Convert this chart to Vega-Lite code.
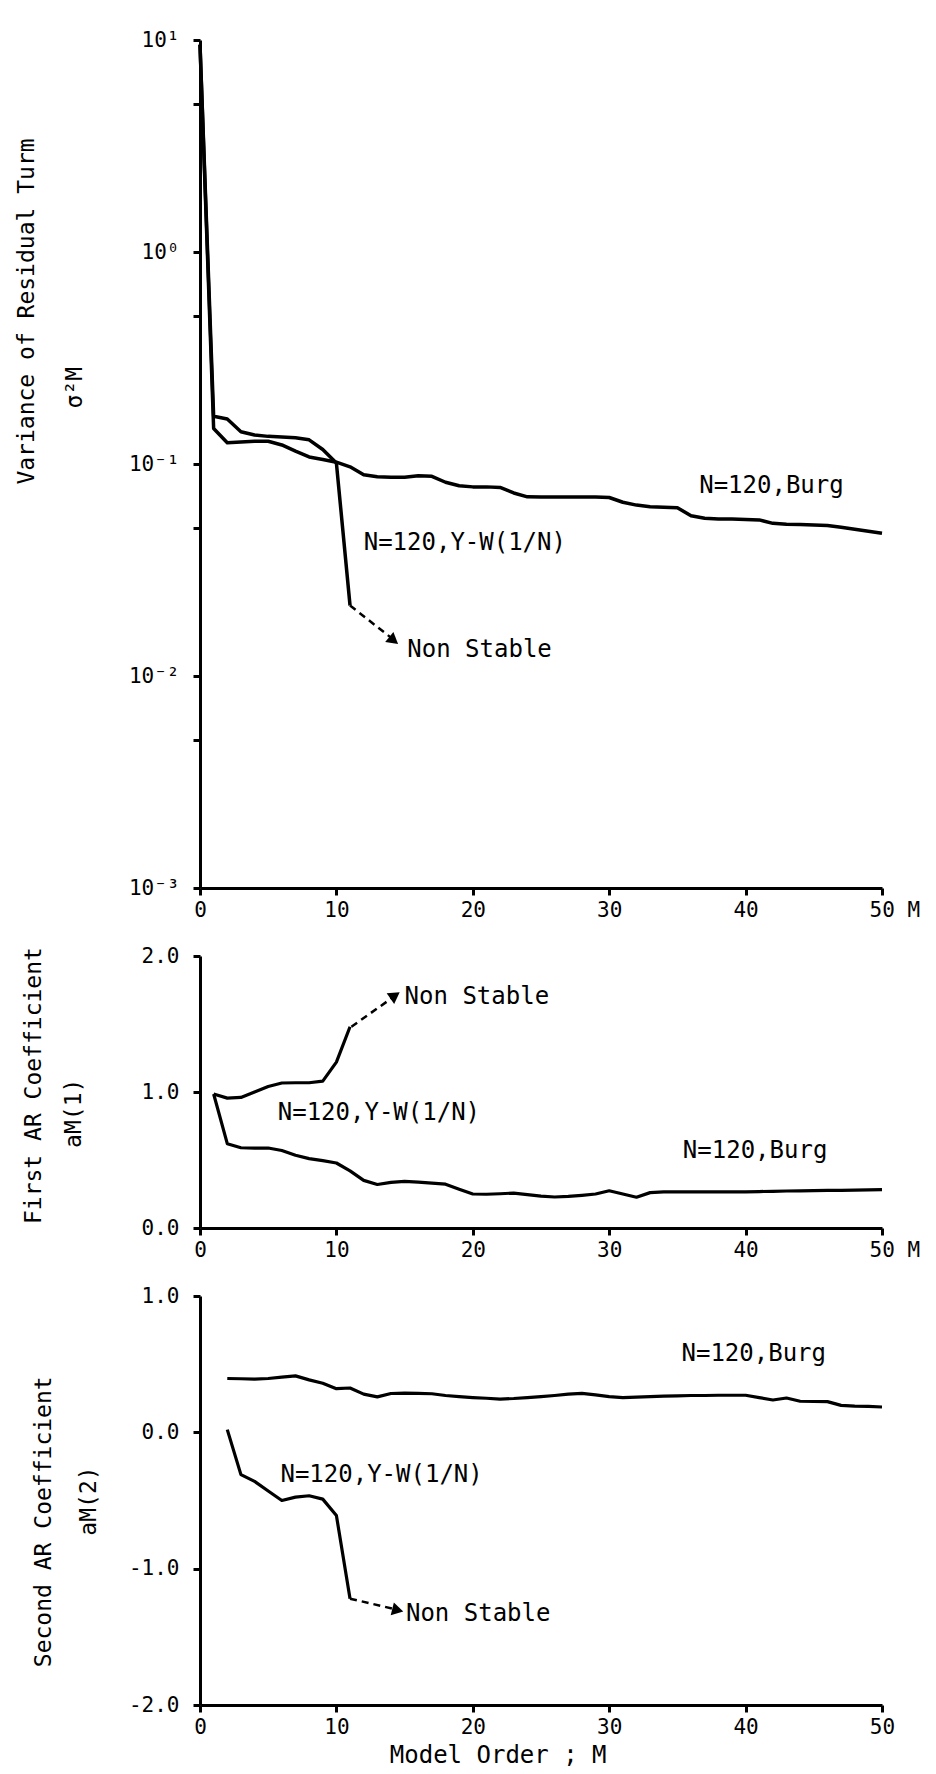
{
  "$schema": "https://vega.github.io/schema/vega-lite/v6.json",
  "background": "white",
  "padding": {"left": 15, "top": 29, "right": 5, "bottom": 0},
  "bounds": "flush",
  "spacing": 68,
  "config": {
    "view": {"stroke": null},
    "font": "DejaVu Sans Mono",
    "axis": {
      "domainColor": "black", "domainWidth": 3, "tickColor": "black", "tickWidth": 3, "tickSize": 7,
      "labelFont": "DejaVu Sans Mono", "labelFontSize": 21, "labelColor": "black",
      "titleFont": "DejaVu Sans Mono", "titleFontSize": 23, "titleFontWeight": "normal", "titleColor": "black",
      "grid": false, "labelFlush": false, "labelOverlap": false
    },
    "axisX": {"labelPadding": 4},
    "axisY": {"labelPadding": 14}
  },
  "datasets": {
    "p1": [
      {"s":"Burg","M":0,"v":9.5},{"s":"Burg","M":1,"v":0.147},{"s":"Burg","M":2,"v":0.126},{"s":"Burg","M":3,"v":0.127},{"s":"Burg","M":4,"v":0.128},{"s":"Burg","M":5,"v":0.128},{"s":"Burg","M":6,"v":0.123},{"s":"Burg","M":7,"v":0.115},{"s":"Burg","M":8,"v":0.108},{"s":"Burg","M":9,"v":0.105},{"s":"Burg","M":10,"v":0.102},{"s":"Burg","M":11,"v":0.097},{"s":"Burg","M":12,"v":0.089},{"s":"Burg","M":13,"v":0.087},{"s":"Burg","M":14,"v":0.0865},{"s":"Burg","M":15,"v":0.0865},{"s":"Burg","M":16,"v":0.088},{"s":"Burg","M":17,"v":0.0875},{"s":"Burg","M":18,"v":0.082},{"s":"Burg","M":19,"v":0.079},{"s":"Burg","M":20,"v":0.078},{"s":"Burg","M":21,"v":0.078},{"s":"Burg","M":22,"v":0.0775},{"s":"Burg","M":23,"v":0.073},{"s":"Burg","M":24,"v":0.07},{"s":"Burg","M":25,"v":0.0698},{"s":"Burg","M":26,"v":0.0698},{"s":"Burg","M":27,"v":0.0698},{"s":"Burg","M":28,"v":0.0698},{"s":"Burg","M":29,"v":0.0698},{"s":"Burg","M":30,"v":0.0695},{"s":"Burg","M":31,"v":0.066},{"s":"Burg","M":32,"v":0.064},{"s":"Burg","M":33,"v":0.0628},{"s":"Burg","M":34,"v":0.0625},{"s":"Burg","M":35,"v":0.0622},{"s":"Burg","M":36,"v":0.057},{"s":"Burg","M":37,"v":0.0555},{"s":"Burg","M":38,"v":0.055},{"s":"Burg","M":39,"v":0.055},{"s":"Burg","M":40,"v":0.0548},{"s":"Burg","M":41,"v":0.0545},{"s":"Burg","M":42,"v":0.0525},{"s":"Burg","M":43,"v":0.052},{"s":"Burg","M":44,"v":0.0518},{"s":"Burg","M":45,"v":0.0516},{"s":"Burg","M":46,"v":0.0513},{"s":"Burg","M":47,"v":0.0503},{"s":"Burg","M":48,"v":0.0492},{"s":"Burg","M":49,"v":0.0482},{"s":"Burg","M":50,"v":0.0471},
      {"s":"YW","M":0,"v":9.5},{"s":"YW","M":1,"v":0.168},{"s":"YW","M":2,"v":0.163},{"s":"YW","M":3,"v":0.142},{"s":"YW","M":4,"v":0.137},{"s":"YW","M":5,"v":0.135},{"s":"YW","M":6,"v":0.134},{"s":"YW","M":7,"v":0.133},{"s":"YW","M":8,"v":0.13},{"s":"YW","M":9,"v":0.117},{"s":"YW","M":10,"v":0.101},{"s":"YW","M":11,"v":0.0215}
    ],
    "p1dash": [{"M":11,"v":0.0215},{"M":14.1,"v":0.015}],
    "p1head": [{"M":14.2,"v":0.0147}],
    "p1text": [
      {"M":36.6,"v":0.079,"t":"N=120,Burg"},
      {"M":12.0,"v":0.0425,"t":"N=120,Y-W(1/N)"},
      {"M":15.2,"v":0.0133,"t":"Non Stable"}
    ],
    "p2": [
      {"s":"Burg","M":1,"v":0.985},{"s":"Burg","M":2,"v":0.62},{"s":"Burg","M":3,"v":0.59},{"s":"Burg","M":4,"v":0.588},{"s":"Burg","M":5,"v":0.588},{"s":"Burg","M":6,"v":0.57},{"s":"Burg","M":7,"v":0.535},{"s":"Burg","M":8,"v":0.51},{"s":"Burg","M":9,"v":0.495},{"s":"Burg","M":10,"v":0.478},{"s":"Burg","M":11,"v":0.42},{"s":"Burg","M":12,"v":0.35},{"s":"Burg","M":13,"v":0.32},{"s":"Burg","M":14,"v":0.335},{"s":"Burg","M":15,"v":0.343},{"s":"Burg","M":16,"v":0.338},{"s":"Burg","M":17,"v":0.33},{"s":"Burg","M":18,"v":0.322},{"s":"Burg","M":19,"v":0.285},{"s":"Burg","M":20,"v":0.25},{"s":"Burg","M":21,"v":0.248},{"s":"Burg","M":22,"v":0.252},{"s":"Burg","M":23,"v":0.257},{"s":"Burg","M":24,"v":0.245},{"s":"Burg","M":25,"v":0.235},{"s":"Burg","M":26,"v":0.228},{"s":"Burg","M":27,"v":0.232},{"s":"Burg","M":28,"v":0.24},{"s":"Burg","M":29,"v":0.25},{"s":"Burg","M":30,"v":0.274},{"s":"Burg","M":31,"v":0.25},{"s":"Burg","M":32,"v":0.226},{"s":"Burg","M":33,"v":0.26},{"s":"Burg","M":34,"v":0.265},{"s":"Burg","M":35,"v":0.265},{"s":"Burg","M":36,"v":0.265},{"s":"Burg","M":37,"v":0.265},{"s":"Burg","M":38,"v":0.265},{"s":"Burg","M":39,"v":0.265},{"s":"Burg","M":40,"v":0.265},{"s":"Burg","M":41,"v":0.268},{"s":"Burg","M":42,"v":0.27},{"s":"Burg","M":43,"v":0.272},{"s":"Burg","M":44,"v":0.273},{"s":"Burg","M":45,"v":0.275},{"s":"Burg","M":46,"v":0.276},{"s":"Burg","M":47,"v":0.277},{"s":"Burg","M":48,"v":0.278},{"s":"Burg","M":49,"v":0.28},{"s":"Burg","M":50,"v":0.282},
      {"s":"YW","M":1,"v":0.985},{"s":"YW","M":2,"v":0.955},{"s":"YW","M":3,"v":0.96},{"s":"YW","M":4,"v":1.0},{"s":"YW","M":5,"v":1.04},{"s":"YW","M":6,"v":1.066},{"s":"YW","M":7,"v":1.068},{"s":"YW","M":8,"v":1.068},{"s":"YW","M":9,"v":1.08},{"s":"YW","M":10,"v":1.22},{"s":"YW","M":11,"v":1.48}
    ],
    "p2dash": [{"M":11.1,"v":1.48},{"M":14.2,"v":1.70}],
    "p2head": [{"M":14.3,"v":1.71}],
    "p2text": [
      {"M":35.4,"v":0.566,"t":"N=120,Burg"},
      {"M":5.7,"v":0.845,"t":"N=120,Y-W(1/N)"},
      {"M":15.0,"v":1.70,"t":"Non Stable"}
    ],
    "p3": [
      {"s":"Burg","M":2,"v":0.395},{"s":"Burg","M":3,"v":0.393},{"s":"Burg","M":4,"v":0.39},{"s":"Burg","M":5,"v":0.395},{"s":"Burg","M":6,"v":0.405},{"s":"Burg","M":7,"v":0.414},{"s":"Burg","M":8,"v":0.385},{"s":"Burg","M":9,"v":0.36},{"s":"Burg","M":10,"v":0.32},{"s":"Burg","M":11,"v":0.325},{"s":"Burg","M":12,"v":0.28},{"s":"Burg","M":13,"v":0.26},{"s":"Burg","M":14,"v":0.285},{"s":"Burg","M":15,"v":0.287},{"s":"Burg","M":16,"v":0.286},{"s":"Burg","M":17,"v":0.283},{"s":"Burg","M":18,"v":0.27},{"s":"Burg","M":19,"v":0.262},{"s":"Burg","M":20,"v":0.255},{"s":"Burg","M":21,"v":0.25},{"s":"Burg","M":22,"v":0.244},{"s":"Burg","M":23,"v":0.248},{"s":"Burg","M":24,"v":0.255},{"s":"Burg","M":25,"v":0.262},{"s":"Burg","M":26,"v":0.27},{"s":"Burg","M":27,"v":0.28},{"s":"Burg","M":28,"v":0.286},{"s":"Burg","M":29,"v":0.275},{"s":"Burg","M":30,"v":0.262},{"s":"Burg","M":31,"v":0.255},{"s":"Burg","M":32,"v":0.258},{"s":"Burg","M":33,"v":0.262},{"s":"Burg","M":34,"v":0.266},{"s":"Burg","M":35,"v":0.268},{"s":"Burg","M":36,"v":0.27},{"s":"Burg","M":37,"v":0.27},{"s":"Burg","M":38,"v":0.272},{"s":"Burg","M":39,"v":0.272},{"s":"Burg","M":40,"v":0.272},{"s":"Burg","M":41,"v":0.255},{"s":"Burg","M":42,"v":0.237},{"s":"Burg","M":43,"v":0.252},{"s":"Burg","M":44,"v":0.228},{"s":"Burg","M":45,"v":0.226},{"s":"Burg","M":46,"v":0.225},{"s":"Burg","M":47,"v":0.198},{"s":"Burg","M":48,"v":0.192},{"s":"Burg","M":49,"v":0.19},{"s":"Burg","M":50,"v":0.186},
      {"s":"YW","M":2,"v":0.02},{"s":"YW","M":3,"v":-0.31},{"s":"YW","M":4,"v":-0.36},{"s":"YW","M":5,"v":-0.43},{"s":"YW","M":6,"v":-0.5},{"s":"YW","M":7,"v":-0.475},{"s":"YW","M":8,"v":-0.465},{"s":"YW","M":9,"v":-0.49},{"s":"YW","M":10,"v":-0.61},{"s":"YW","M":11,"v":-1.22}
    ],
    "p3dash": [{"M":11,"v":-1.22},{"M":14.4,"v":-1.30}],
    "p3head": [{"M":14.5,"v":-1.305}],
    "p3text": [
      {"M":35.3,"v":0.576,"t":"N=120,Burg"},
      {"M":5.9,"v":-0.31,"t":"N=120,Y-W(1/N)"},
      {"M":15.1,"v":-1.335,"t":"Non Stable"}
    ]
  },
  "vconcat": [
    {
      "width": 682, "height": 848,
      "encoding": {
        "x": {"field": "M", "type": "quantitative", "scale": {"domain": [0, 50], "nice": false, "zero": false},
          "axis": {"title": null, "values": [0, 10, 20, 30, 40, 50],
            "labelExpr": "datum.value === 50 ? '50 M' : datum.label",
            "labelAlign": {"condition": {"test": "datum.value === 50", "value": "left"}, "value": "center"},
            "labelOffset": {"condition": {"test": "datum.value === 50", "value": -13}, "value": 0}}},
        "y": {"field": "v", "type": "quantitative", "scale": {"type": "log", "domain": [0.001, 10], "nice": false},
          "axis": {"title": ["Variance of Residual Turm", "σ²M\u00a0\u00a0\u00a0\u00a0\u00a0\u00a0\u00a0\u00a0\u00a0\u00a0\u00a0\u200b"],
            "titleLineHeight": 48, "titlePadding": 42, "titleY": 271,
            "values": [10, 5, 1, 0.5, 0.1, 0.05, 0.01, 0.005, 0.001],
            "labelExpr": "datum.value === 10 ? '10¹' : datum.value === 1 ? '10⁰' : datum.value === 0.1 ? '10⁻¹' : datum.value === 0.01 ? '10⁻²' : datum.value === 0.001 ? '10⁻³' : ''"}}
      },
      "layer": [
        {"data": {"name": "p1"}, "mark": {"type": "line", "color": "black", "strokeWidth": 3.5, "strokeJoin": "round"}, "encoding": {"detail": {"field": "s"}}},
        {"data": {"name": "p1dash"}, "mark": {"type": "line", "color": "black", "strokeWidth": 2.5, "strokeDash": [7, 5]}, "encoding": {}},
        {"data": {"name": "p1head"}, "mark": {"type": "point", "shape": "triangle-right", "filled": true, "color": "black", "opacity": 1, "size": 170, "angle": 39}, "encoding": {}},
        {"data": {"name": "p1text"}, "mark": {"type": "text", "align": "left", "baseline": "middle", "font": "DejaVu Sans Mono", "fontSize": 24, "color": "black"}, "encoding": {"text": {"field": "t"}}}
      ]
    },
    {
      "width": 682, "height": 272,
      "encoding": {
        "x": {"field": "M", "type": "quantitative", "scale": {"domain": [0, 50], "nice": false, "zero": false},
          "axis": {"title": null, "values": [0, 10, 20, 30, 40, 50],
            "labelExpr": "datum.value === 50 ? '50 M' : datum.label",
            "labelAlign": {"condition": {"test": "datum.value === 50", "value": "left"}, "value": "center"},
            "labelOffset": {"condition": {"test": "datum.value === 50", "value": -13}, "value": 0}}},
        "y": {"field": "v", "type": "quantitative", "scale": {"domain": [0, 2], "nice": false, "zero": false},
          "axis": {"title": ["\u200b\u00a0First AR Coefficient", "aM(1)\u00a0\u00a0\u00a0\u200b"],
            "titleLineHeight": 40, "titlePadding": 56,
            "values": [0, 1, 2], "format": ".1f"}}
      },
      "layer": [
        {"data": {"name": "p2"}, "mark": {"type": "line", "color": "black", "strokeWidth": 3.2, "strokeJoin": "round"}, "encoding": {"detail": {"field": "s"}}},
        {"data": {"name": "p2dash"}, "mark": {"type": "line", "color": "black", "strokeWidth": 2.5, "strokeDash": [7, 5]}, "encoding": {}},
        {"data": {"name": "p2head"}, "mark": {"type": "point", "shape": "triangle-right", "filled": true, "color": "black", "opacity": 1, "size": 170, "angle": 325}, "encoding": {}},
        {"data": {"name": "p2text"}, "mark": {"type": "text", "align": "left", "baseline": "middle", "font": "DejaVu Sans Mono", "fontSize": 24, "color": "black"}, "encoding": {"text": {"field": "t"}}}
      ]
    },
    {
      "width": 682, "height": 409,
      "encoding": {
        "x": {"field": "M", "type": "quantitative", "scale": {"domain": [0, 50], "nice": false, "zero": false},
          "axis": {"title": "Model Order ; M\u00a0\u00a0\u00a0\u00a0\u00a0\u00a0\u200b", "titleFontSize": 24, "titlePadding": 6, "values": [0, 10, 20, 30, 40, 50]}},
        "y": {"field": "v", "type": "quantitative", "scale": {"domain": [-2, 1], "nice": false, "zero": false},
          "axis": {"title": ["Second AR Coefficient\u00a0\u00a0\u00a0\u200b", "aM(2)"],
            "titleLineHeight": 45, "titlePadding": 28,
            "values": [-2, -1, 0, 1],
            "labelExpr": "replace(format(datum.value, '.1f'), '\u2212', '-')"}}
      },
      "layer": [
        {"data": {"name": "p3"}, "mark": {"type": "line", "color": "black", "strokeWidth": 3.2, "strokeJoin": "round"}, "encoding": {"detail": {"field": "s"}}},
        {"data": {"name": "p3dash"}, "mark": {"type": "line", "color": "black", "strokeWidth": 2.5, "strokeDash": [7, 5]}, "encoding": {}},
        {"data": {"name": "p3head"}, "mark": {"type": "point", "shape": "triangle-right", "filled": true, "color": "black", "opacity": 1, "size": 170, "angle": 14}, "encoding": {}},
        {"data": {"name": "p3text"}, "mark": {"type": "text", "align": "left", "baseline": "middle", "font": "DejaVu Sans Mono", "fontSize": 24, "color": "black"}, "encoding": {"text": {"field": "t"}}}
      ]
    }
  ]
}
